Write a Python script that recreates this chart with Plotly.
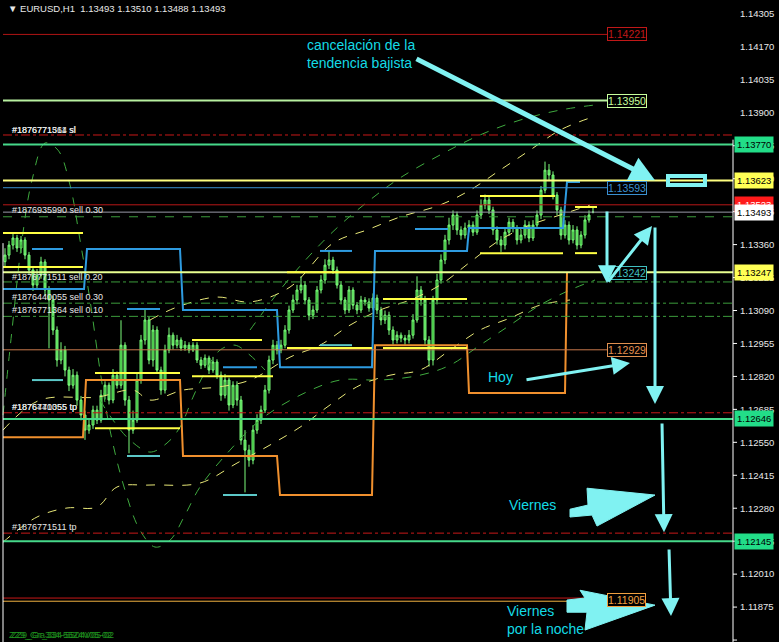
import plotly.graph_objects as go

BASE = 1.1
def P(v):
    return BASE + v / 1e5

# ---------------- data: hourly candles (price points above 1.10000) ----------------
opens_pts = [3290,3317,3358,3387,3346,3379,3317,3256,3194,3235,
             3289,3174,3133,3010,2887,2928,2846,2784,2825,2723,
             2662,2600,2621,2682,2641,2743,2784,2723,2825,2784,
             2948,2723,2600,2641,2805,2969,3051,2887,3010,2846,
             2764,2928,2989,2948,2969,2936,2948,2928,2948,2887,
             2866,2895,2846,2879,2825,2743,2805,2703,2784,2723,
             2559,2518,2477,2600,2641,2682,2764,2887,2948,2928,
             2948,3010,3092,3133,3174,3194,3133,3071,3092,3174,
             3215,3276,3297,3256,3194,3133,3092,3174,3112,3092,
             3133,3125,3100,3141,3092,3051,3071,3010,2969,2989,
             2977,2969,2989,3051,3174,3133,2969,2887,3133,3215,
             3297,3379,3440,3481,3420,3399,3428,3440,3411,3481,
             3522,3543,3502,3420,3379,3358,3411,3452,3428,3379,
             3399,3440,3387,3440,3481,3583,3665,3645,3563,3502,
             3399,3440,3379,3420,3358,3399,3461,3493]
highs_pts = [3345,3375,3405,3400,3395,3390,3330,3270,3260,3310,
             3300,3190,3150,3025,2960,2945,2860,2850,2840,2740,
             2680,2645,2700,2700,2765,2800,2795,2850,2840,3050,
             2960,2740,2680,2830,2990,3095,3065,3030,3025,2860,
             2950,3020,3000,2990,2980,2965,2960,2960,2960,2900,
             2910,2905,2900,2890,2840,2830,2815,2800,2800,2740,
             2600,2540,2620,2665,2700,2785,2905,2970,2965,2970,
             3030,3110,3155,3195,3230,3210,3145,3110,3190,3235,
             3300,3335,3310,3270,3210,3145,3190,3185,3125,3150,
             3145,3140,3160,3155,3105,3090,3085,3025,3005,3000,
             2990,3010,3075,3230,3190,3150,2985,3150,3240,3320,
             3400,3470,3500,3495,3435,3450,3460,3455,3500,3545,
             3565,3560,3515,3435,3395,3430,3470,3465,3440,3420,
             3460,3455,3460,3500,3600,3700,3690,3660,3575,3515,
             3460,3455,3440,3435,3415,3480,3500,3510]
lows_pts = [3270,3300,3340,3330,3325,3300,3240,3170,3180,3220,
            3150,2935,2990,2860,2870,2820,2760,2770,2700,2640,
            2560,2585,2605,2625,2630,2725,2705,2710,2770,2770,
            2700,2505,2585,2630,2790,2950,2870,2860,2830,2745,
            2750,2915,2930,2935,2925,2925,2915,2920,2875,2850,
            2855,2830,2835,2810,2720,2730,2680,2690,2700,2540,
            2345,2450,2460,2585,2625,2670,2750,2870,2910,2915,
            2935,2995,3080,3115,3160,3115,3050,3055,3080,3160,
            3200,3260,3240,3180,3115,3075,3080,3095,3075,3080,
            3110,3085,3090,3075,3030,3035,2990,2950,2955,2960,
            2950,2955,2975,3040,3110,2950,2860,2865,3115,3200,
            3280,3360,3420,3400,3380,3385,3410,3395,3400,3465,
            3505,3485,3400,3360,3330,3340,3395,3410,3360,3365,
            3385,3370,3375,3425,3465,3570,3620,3545,3480,3380,
            3385,3360,3365,3340,3345,3385,3450,3488]
closes_pts = [3317,3358,3387,3346,3379,3317,3256,3194,3235,3289,
              3174,3133,3010,2887,2928,2846,2784,2825,2723,2662,
              2600,2621,2682,2641,2743,2784,2723,2825,2784,2948,
              2723,2600,2641,2805,2969,3051,2887,3010,2846,2764,
              2928,2989,2948,2969,2936,2948,2928,2948,2887,2866,
              2895,2846,2879,2825,2743,2805,2703,2784,2723,2559,
              2518,2477,2600,2641,2682,2764,2887,2948,2928,2948,
              3010,3092,3133,3174,3194,3133,3071,3092,3174,3215,
              3276,3297,3256,3194,3133,3092,3174,3112,3092,3133,
              3125,3100,3141,3092,3051,3071,3010,2969,2989,2977,
              2969,2989,3051,3174,3133,2969,2887,3133,3215,3297,
              3379,3440,3481,3420,3399,3428,3440,3411,3481,3522,
              3543,3502,3420,3379,3358,3411,3452,3428,3379,3399,
              3440,3387,3440,3481,3583,3665,3645,3563,3502,3399,
              3440,3379,3420,3358,3399,3461,3481,3493]
bars = list(range(len(closes_pts)))

# ---------------- horizontal levels ----------------
level_prices = [1.14221, 1.13950, 1.13809, 1.13770, 1.13623, 1.13593, 1.13523,
                1.13493, 1.13474, 1.13247, 1.13207, 1.13120, 1.13066, 1.12929,
                1.12671, 1.12646, 1.12178, 1.12145, 1.11912, 1.11899]
level_kind = ["lab", "lab", "full", "full", "full", "lab", "full",
              "full", "full", "full", "full", "full", "full", "lab",
              "full", "full", "full", "full", "lab", "lab"]
level_color = ["#b01414", "#b8f0a0", "#c81818", "#46d88a", "#ffff80", "#3a90d0", "#b81818",
               "#9a9aa8", "#3c9c3c", "#e8ff90", "#3c9c3c", "#3c9c3c", "#3c9c3c", "#c8784c",
               "#c81818", "#46d88a", "#c81818", "#46d88a", "#c81818", "#f0b040"]
level_dash = ["solid", "solid", "dashdot", "solid", "solid", "solid", "solid",
              "solid", "dash", "solid", "dashdot", "dashdot", "dashdot", "solid",
              "dashdot", "solid", "dashdot", "solid", "solid", "solid"]
level_width = [1, 2, 1, 2, 2, 1, 1, 1, 1, 2, 1, 1, 1, 1, 1, 2, 1, 2, 1, 1]

# price-axis label boxes
axis_box_prices = [1.13770, 1.13623, 1.13523, 1.13493, 1.13247, 1.12646, 1.12145]
axis_box_bg = ["#22dd88", "#ffff55", "#ff1a1a", "#ffffff", "#ffff55", "#22dd88", "#22dd88"]

# in-chart label boxes
chart_box_prices = [1.14221, 1.13950, 1.13593, 1.13242, 1.12929, 1.11905]
chart_box_color = ["#c01818", "#c8ff9c", "#3a90d0", "#40c0c0", "#e09050", "#f0a040"]

# order labels
order_labels = ["#1876771511 sl", "#1876771364 sl", "#1876935990 sell 0.30",
                "#1876771511 sell 0.20", "#1876440055 sell 0.30",
                "#1876771364 sell 0.10", "#1876771355 tp", "#1876440055 tp",
                "#1876771511 tp"]
order_label_prices = [1.13829, 1.13829, 1.13502, 1.13227, 1.13145, 1.13092,
                      1.12694, 1.12694, 1.12203]

# ---------------- step indicators ----------------
blue_x = [-0.5, 19.75, 20.5, 43.75, 44.5, 68, 68.75, 91.75, 92.5, 115.5, 116, 139.5, 140.5, 143.75]
blue_p = [3178, 3178, 3342, 3342, 3092, 3092, 2858, 2858, 3334, 3334, 3428, 3428, 3616, 3616]
orange_x = [-0.5, 19.5, 20.25, 43.75, 44.5, 68, 68.75, 91.75, 92.5, 115.5, 116, 140, 140.5]
orange_p = [2571, 2571, 2805, 2805, 2494, 2494, 2334, 2334, 2948, 2948, 2752, 2752, 3247]
blue_caps = [(6.75, 14.5, 3342), (30.5, 38.75, 3096), (54.5, 63, 2858),
             (78.75, 86.75, 3334), (102.5, 110.75, 3424)]
teal_caps = [(6.75, 14.5, 2805), (30.5, 38.75, 2494), (54.5, 63, 2334), (78.75, 86.75, 2948)]
yellow_segs = [(-0.5, 19.5, 3407), (-0.5, 19.5, 3268), (22.5, 43.75, 2834), (22.5, 43.75, 2608),
               (46.75, 64.25, 2969), (46.75, 67, 2821), (70.5, 91.75, 3247), (70.5, 91.75, 2936),
               (94.5, 115.5, 3137), (94.5, 115.5, 2936), (118.75, 137.5, 3559),
               (118.75, 139.5, 3325), (142.5, 148, 3514), (142.5, 148, 3325)]

# ---------------- dashed envelopes ----------------
g1_x = [-0.5,1.75,4.25,6.75,10,13.25,16.25,18.75,21.25,23.75,26.25,30,33.75,37.5,41.25,45,48.75,
        56.25,63.75,73.75,83.75,93.75,103.75,111.25,118.75,126.25,133.75,141.25,147.5]
g1_p = [2662,3010,3379,3624,3776,3747,3604,3379,3133,2846,2600,2354,2190,2121,2149,2252,2367,
        2518,2641,2743,2805,2805,2825,2866,2948,3030,3112,3174,3215]
g3_x = [61.25, 68.75, 76.25, 83.75, 91.25, 98.75, 108.75, 118.75, 128.75, 138.75, 147.5]
g3_p = [3010, 3174, 3317, 3440, 3543, 3633, 3727, 3809, 3870, 3911, 3932]
g5_x = [23.75, 27, 31.25, 36.25, 40.5, 43.75, 47, 50, 53.75, 57.5, 61.25, 65]
g5_p = [2723, 2641, 2559, 2510, 2547, 2612, 2735, 2838, 2928, 2948, 2907, 2846]
y1_x = [-0.5, 8, 15.5, 23, 28, 36.25, 48.75, 58, 66.25, 73.75, 81.25, 88.75, 96.25, 103.75,
        111.25, 118.75, 126.25, 133.75, 141.25]
y1_p = [2141, 2244, 2281, 2285, 2367, 2375, 2383, 2465, 2539, 2612, 2703, 2784, 2825, 2846,
        2928, 3010, 3059, 3112, 3133]
y2_x = [-0.5, 8.75, 23, 32, 36.25, 44.5, 53, 61.25, 71.25, 78.75, 86.25, 93.75, 101.25, 108.75,
        116.25, 123.75, 131.25, 138.75, 146.25]
y2_p = [2600, 2723, 2735, 2764, 2723, 2764, 2776, 2805, 2899, 2948, 3030, 3092, 3133, 3194,
        3288, 3379, 3440, 3481, 3522]
y3_x = [36.25, 43, 53, 61.25, 71.25, 82, 90.5, 98.75, 108.75, 116.25, 123.75, 131.25, 138.75, 146.25]
y3_p = [3051, 3104, 3145, 3125, 3186, 3366, 3420, 3473, 3522, 3583, 3665, 3747, 3829, 3879]

# axis ticks
tick_vals = [1.11740, 1.11875, 1.12010, 1.12145, 1.12280, 1.12415, 1.12550, 1.12685,
             1.12820, 1.12955, 1.13090, 1.13225, 1.13360, 1.13495, 1.13630, 1.13765,
             1.13900, 1.14035, 1.14170, 1.14305]

# ---------------- figure ----------------
FONT = "Liberation Sans, Arial, DejaVu Sans"
CYAN = "#80f2f2"
X_END = 182
LAB_X = 150.5

fig = go.Figure()

# dashed envelopes
for xs, ps, col in [(g1_x, g1_p, "#3faa3f"), (g3_x, g3_p, "#3faa3f"), (g5_x, g5_p, "#3faa3f"),
                    (y1_x, y1_p, "#e8e878"), (y2_x, y2_p, "#e8e878"), (y3_x, y3_p, "#e8e878")]:
    fig.add_trace(go.Scatter(x=xs, y=[P(v) for v in ps], mode="lines", line_shape="spline",
                             line=dict(color=col, width=1, dash="dash"), hoverinfo="skip"))

# candles
fig.add_trace(go.Candlestick(
    x=bars, open=[P(v) for v in opens_pts], high=[P(v) for v in highs_pts],
    low=[P(v) for v in lows_pts], close=[P(v) for v in closes_pts],
    increasing=dict(line=dict(color="#7cfc7c", width=1), fillcolor="#1f9f1f"),
    decreasing=dict(line=dict(color="#7cfc7c", width=1), fillcolor="#4fd04f"),
    whiskerwidth=0, hoverinfo="skip"))

# horizontal levels
for p, kind, col, dash, w in zip(level_prices, level_kind, level_color, level_dash, level_width):
    fig.add_shape(type="line", xref="x", yref="y", x0=-0.5, x1=(LAB_X if kind == "lab" else X_END),
                  y0=p, y1=p, line=dict(color=col, dash=dash, width=w))

# step indicators
fig.add_trace(go.Scatter(x=blue_x, y=[P(v) for v in blue_p], mode="lines",
                         line=dict(color="#2e9be0", width=2), hoverinfo="skip"))
fig.add_trace(go.Scatter(x=orange_x, y=[P(v) for v in orange_p], mode="lines",
                         line=dict(color="#f0902e", width=2), hoverinfo="skip"))
for segs, col in [(blue_caps, "#2e9be0"), (teal_caps, "#5cc8c8"), (yellow_segs, "#ffff44")]:
    for a, b, v in segs:
        fig.add_shape(type="line", xref="x", yref="y", x0=a, x1=b, y0=P(v), y1=P(v),
                      line=dict(color=col, width=2))

# left border line and price axis line
fig.add_shape(type="line", xref="x", yref="y", x0=-0.5, x1=-0.5, y0=1.13366, y1=1.11700,
              line=dict(color="#ffffff", width=1))
fig.add_shape(type="line", xref="paper", yref="y", x0=1, x1=1, y0=1.13790, y1=1.11700,
              line=dict(color="#ffffff", width=1))
for t in tick_vals:
    if t < 1.1379:
        fig.add_shape(type="line", xref="paper", yref="y", x0=1, x1=1.0055, y0=t, y1=t,
                      line=dict(color="#ffffff", width=1))

# in-chart label boxes
for p, col in zip(chart_box_prices, chart_box_color):
    fig.add_annotation(x=LAB_X, y=p, xref="x", yref="y", xanchor="left", yanchor="middle",
                       text=f"{p:.5f}", showarrow=False, bgcolor="#000000", bordercolor=col,
                       borderwidth=1, borderpad=0, font=dict(family=FONT, size=10.5, color=col))

# axis label boxes
for p, bg in zip(axis_box_prices, axis_box_bg):
    fig.add_annotation(x=1, y=p, xref="paper", yref="y", xanchor="left", yanchor="middle",
                       xshift=1, text=f"{p:.5f}", showarrow=False, bgcolor=bg,
                       borderpad=2, font=dict(family=FONT, size=9.5,
                                              color="#000000" if bg != "#ff1a1a" else "#ffffff"))

# order labels
for txt, p in zip(order_labels, order_label_prices):
    fig.add_annotation(x=1.25, y=p, xref="x", yref="y", xanchor="left", yanchor="middle",
                       text=txt, showarrow=False, font=dict(family=FONT, size=9, color="#e8e8e8"))

# header and footer text
fig.add_annotation(x=0.008, y=0.986, xref="paper", yref="paper", xanchor="left", yanchor="middle",
                   text="▼ EURUSD,H1  1.13493 1.13510 1.13488 1.13493", showarrow=False,
                   font=dict(family=FONT, size=9.5, color="#e8e8e8"))
fig.add_annotation(x=0.01, y=0.011, xref="paper", yref="paper", xanchor="left", yanchor="middle",
                   text="ZZ9_Gra334-5524V05-02", showarrow=False,
                   font=dict(family=FONT, size=9, color="#1f8f1f"))
fig.add_annotation(x=0.012, y=0.011, xref="paper", yref="paper", xanchor="left", yanchor="middle",
                   text="ZZ9_Gr_334-5504V05-02", showarrow=False,
                   font=dict(family=FONT, size=9, color="#1f8f1f"))

# hand-drawn annotations
TXT = "#14dbe6"
fig.add_annotation(x=75, y=1.14139, xref="x", yref="y", xanchor="left", yanchor="middle", align="left",
                   text="cancelación de la<br>tendencia bajista", showarrow=False,
                   font=dict(family=FONT, size=14, color=TXT))
fig.add_annotation(x=120.25, y=1.12817, xref="x", yref="y", xanchor="left", yanchor="middle",
                   text="Hoy", showarrow=False, font=dict(family=FONT, size=14, color=TXT))
fig.add_annotation(x=125.5, y=1.12293, xref="x", yref="y", xanchor="left", yanchor="middle",
                   text="Viernes", showarrow=False, font=dict(family=FONT, size=14, color=TXT))
fig.add_annotation(x=125, y=1.11824, xref="x", yref="y", xanchor="left", yanchor="middle", align="left",
                   text="Viernes<br>por la noche", showarrow=False, font=dict(family=FONT, size=14, color=TXT))

def arrow(x0, y0, x1, y1, w, size=1.2):
    fig.add_annotation(x=x1, y=y1, ax=x0, ay=y0, xref="x", yref="y", axref="x", ayref="y",
                       showarrow=True, arrowhead=2, arrowsize=size, arrowwidth=w,
                       arrowcolor=CYAN, text="")

arrow(102.5, 1.14124, 162.5, 1.13624, 5, 1.0)
arrow(150.5, 1.13502, 150.5, 1.13202, 3)
arrow(150.5, 1.13202, 161.75, 1.13436, 3)
arrow(162.5, 1.13436, 162.5, 1.12707, 3)
arrow(164.25, 1.12633, 164.75, 1.12182, 3)
arrow(166, 1.12117, 166.5, 1.11838, 3)
arrow(130, 1.12805, 156.25, 1.12875, 3)

fig.add_shape(type="rect", xref="x", yref="y", x0=165.75, x1=175, y0=1.13604, y1=1.13641,
              line=dict(color=CYAN, width=4))
fig.add_shape(type="path", xref="x", yref="y", fillcolor=CYAN, line=dict(color=CYAN, width=1),
              path="M141.25,1.12276 L145.75,1.12293 L145.5,1.12362 L162.5,1.12334 L148,1.12207 "
                   "L146.75,1.12252 L141.25,1.12244 Z")
fig.add_shape(type="path", xref="x", yref="y", fillcolor=CYAN, line=dict(color=CYAN, width=1),
              path="M140.5,1.11904 L145,1.11912 L143.75,1.11944 L162.5,1.11883 L145,1.11781 "
                   "L145.5,1.11854 L140.5,1.11854 Z")

fig.update_layout(
    width=779, height=642, margin=dict(l=0, r=46, t=0, b=0),
    paper_bgcolor="#000000", plot_bgcolor="#000000", showlegend=False,
    xaxis=dict(range=[-1.25, X_END], visible=False, rangeslider=dict(visible=False), fixedrange=True),
    yaxis=dict(range=[1.11732, 1.14362], side="right", showgrid=False, zeroline=False,
               showline=False, ticks="", tickvals=tick_vals,
               ticktext=[f"{t:.5f}" for t in tick_vals],
               tickfont=dict(family=FONT, size=9.5, color="#e8e8e8"), ticklabelstandoff=6),
)
fig.write_html("out.html", config={"displayModeBar": False},
               post_script="document.body.style.margin='0';document.body.style.background='#000';")
